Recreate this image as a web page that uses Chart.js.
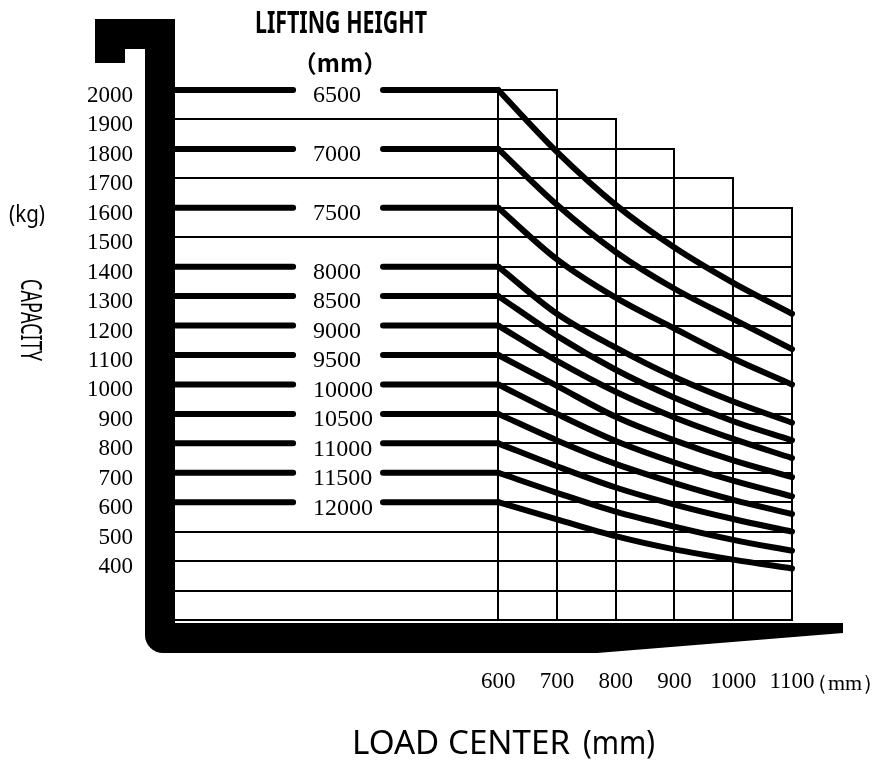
<!DOCTYPE html>
<html>
<head>
<meta charset="utf-8">
<script src="https://cdn.jsdelivr.net/npm/chart.js@4.4.1/dist/chart.umd.min.js"></script>
<style>
  html, body { margin: 0; padding: 0; background: #fff; }
  #wrap { width: 876px; height: 763px; }
</style>
</head>
<body>
<div id="wrap"><canvas id="loadChart" width="876" height="763"></canvas></div>
<script>
/* values */
const loadCenters = [600, 700, 800, 900, 1000, 1100];          // mm, x ticks
const gridTopKg   = [2000, 2000, 1900, 1800, 1700, 1600];      // top of each vertical grid line
const liftHeights = [6500, 7000, 7500, 8000, 8500, 9000, 9500, 10000, 10500, 11000, 11500, 12000];

/* capacity (kg) at 600 / 700 / 800 / 900 / 1000 / 1100 mm */
const cap6500  = [2000, 1790, 1610, 1465, 1345, 1240];
const cap7000  = [1800, 1610, 1450, 1325, 1222, 1120];
const cap7500  = [1600, 1425, 1295, 1190, 1088, 1000];
const cap8000  = [1400, 1240, 1125, 1025, 942, 870];
const cap8500  = [1300, 1165, 1050, 955, 875, 810];
const cap9000  = [1200, 1080, 975, 888, 815, 750];
const cap9500  = [1100, 995, 890, 810, 742, 685];
const cap10000 = [1000, 900, 808, 735, 673, 620];
const cap10500 = [900, 810, 730, 665, 608, 560];
const cap11000 = [800, 722, 650, 592, 543, 500];
const cap11500 = [700, 632, 568, 517, 472, 435];
const cap12000 = [600, 542, 485, 440, 405, 375];

const capacityRows = [cap6500, cap7000, cap7500, cap8000, cap8500, cap9000,
                      cap9500, cap10000, cap10500, cap11000, cap11500, cap12000];

/* layout of the horizontal lead lines (in mm on the x scale) */
const X_MIN = 50;
const LEAD_END = 251;      // left piece ends here
const LEAD_RESUME = 404;   // right piece starts here
const LABEL_AT = 285;      // left edge of the height label

const serif = '"Liberation Serif", "DejaVu Serif", serif';
const sans = '"Noto Sans", "DejaVu Sans", sans-serif';

// build datasets: one lead line + one curve per lifting height
const datasets = [];
capacityRows.forEach((row, i) => {
      const c0 = row[0];
      datasets.push({
            label: liftHeights[i] + ' lead',
            data: [{x: X_MIN, y: c0}, {x: LEAD_END, y: c0}, {x: (LEAD_END + LEAD_RESUME) / 2, y: null},
                   {x: LEAD_RESUME, y: c0}, {x: loadCenters[0], y: c0}],
            borderColor: '#000', borderWidth: 6, borderCapStyle: 'round',
            pointRadius: 0, tension: 0, clip: false
      });
      datasets.push({
            label: liftHeights[i] + '',
            data: loadCenters.map((x, j) => ({x: x, y: row[j]})),
            borderColor: '#000', borderWidth: 6, borderCapStyle: 'round', borderJoinStyle: 'round',
            pointRadius: 0, cubicInterpolationMode: 'monotone', clip: false
      });
});

/* draws text squeezed to a given width */
function fitText(ctx, str, x, y, font, width, align) {
      ctx.save();
      ctx.font = font;
      ctx.textAlign = align || 'center';
      ctx.textBaseline = 'alphabetic';
      const w = ctx.measureText(str).width;
      ctx.translate(x, y);
      ctx.scale(width ? width / w : 1, 1);
      ctx.fillText(str, 0, 0);
      ctx.restore();
}

/* staircase grid */
function drawGrid(chart) {
      const {ctx, scales: {x, y}} = chart;
      const leadLevels = capacityRows.map(r => r[0]);
      ctx.save();
      ctx.strokeStyle = '#000';
      ctx.lineWidth = 2;
      ctx.beginPath();
      y.ticks.forEach(t => {
            const kg = t.value;
            const py = Math.round(y.getPixelForValue(kg));
            const right = loadCenters.filter((c, i) => gridTopKg[i] >= kg).pop();
            const from = leadLevels.includes(kg) ? loadCenters[0] : x.min;
            ctx.moveTo(x.getPixelForValue(from), py);
            ctx.lineTo(Math.round(x.getPixelForValue(right)) + 1, py);
      });
      loadCenters.forEach((c, i) => {
            const px = Math.round(x.getPixelForValue(c));
            ctx.moveTo(px, y.getPixelForValue(y.min));
            ctx.lineTo(px, Math.round(y.getPixelForValue(gridTopKg[i])) - 1);
      });
      ctx.stroke();
      ctx.restore();
}

/* black fork outline */
function drawFrame(chart) {
      const {ctx, chartArea: a} = chart;
      const L = a.left, B = a.bottom, R = a.right;
      const top = a.top - 71;
      ctx.save();
      ctx.fillStyle = '#000';
      ctx.beginPath();
      ctx.moveTo(L - 80, top);
      ctx.lineTo(L, top);
      ctx.lineTo(L, B + 3);
      ctx.lineTo(R + 51, B + 3);
      ctx.lineTo(R + 51, B + 13);
      ctx.lineTo(R - 195, B + 33);
      ctx.lineTo(L - 12, B + 33);
      ctx.arcTo(L - 30, B + 33, L - 30, B + 15, 18);
      ctx.lineTo(L - 30, top + 30);
      ctx.lineTo(L - 50, top + 30);
      ctx.lineTo(L - 50, top + 44);
      ctx.lineTo(L - 80, top + 44);
      ctx.closePath();
      ctx.fill();
      ctx.restore();
}

function drawTexts(chart) {
      const {ctx, chartArea: a, scales: {x, y}} = chart;
      ctx.save();
      ctx.fillStyle = '#000';

      // lifting height labels on the lead lines
      ctx.font = '24px ' + serif;
      ctx.textAlign = 'left';
      ctx.textBaseline = 'middle';
      capacityRows.forEach((row, i) => {
            ctx.fillText(String(liftHeights[i]), x.getPixelForValue(LABEL_AT), y.getPixelForValue(row[0]) + 6);
      });

      // unit after the x ticks
      ctx.font = '22px ' + serif;
      ctx.fillText('（mm）', a.right + 14, a.bottom + 64);

      // titles
      fitText(ctx, 'LIFTING HEIGHT', 341, 33, 'bold 30px ' + sans, 172);
      fitText(ctx, '（mm）', 340, 72, 'bold 24px "Noto Sans CJK SC", ' + sans, 0);
      fitText(ctx, '(kg)', 9, 222, '24px ' + sans, 36, 'left');
      fitText(ctx, 'LOAD CENTER', 352, 754, '33px ' + sans, 218, 'left');
      fitText(ctx, '(mm)', 583, 754, '33px ' + sans, 72, 'left');

      // rotated axis name
      ctx.save();
      ctx.translate(21, 320);
      ctx.rotate(Math.PI / 2);
      fitText(ctx, 'CAPACITY', 0, 0, '29px ' + sans, 82);
      ctx.restore();

      ctx.restore();
}

const forkPlugin = {
      id: 'forkPlugin',
      beforeDatasetsDraw(chart) { drawGrid(chart); },
      afterDatasetsDraw(chart) { drawFrame(chart); drawTexts(chart); }
};

const chart = new Chart(document.getElementById('loadChart'), {
      type: 'line',
      data: { datasets: datasets },
      plugins: [forkPlugin],
      options: {
            responsive: false,
            animation: false,
            devicePixelRatio: 1,
            layout: { padding: { top: 90, right: 84, left: 0, bottom: 0 } },
            plugins: { legend: { display: false }, tooltip: { enabled: false } },
            scales: {
                  x: {
                        type: 'linear', min: X_MIN, max: 1100,
                        grid: { display: false, drawTicks: false },
                        border: { display: false },
                        afterBuildTicks: s => { s.ticks = loadCenters.map(v => ({value: v})); },
                        afterFit: s => { s.height = 143; },
                        ticks: { color: '#000', font: { family: serif, size: 23 }, padding: 48,
                                 maxRotation: 0, autoSkip: false, callback: v => String(v) }
                  },
                  y: {
                        type: 'linear', min: 200, max: 2000,
                        grid: { display: false, drawTicks: false },
                        border: { display: false },
                        afterFit: s => { s.width = 175; },
                        ticks: { stepSize: 100, autoSkip: false, color: '#000',
                                 font: { family: serif, size: 23 },
                                 padding: 42, labelOffset: 6,
                                 callback: v => v >= 400 ? String(v) : '' }
                  }
            }
      }
});
</script>
</body>
</html>
